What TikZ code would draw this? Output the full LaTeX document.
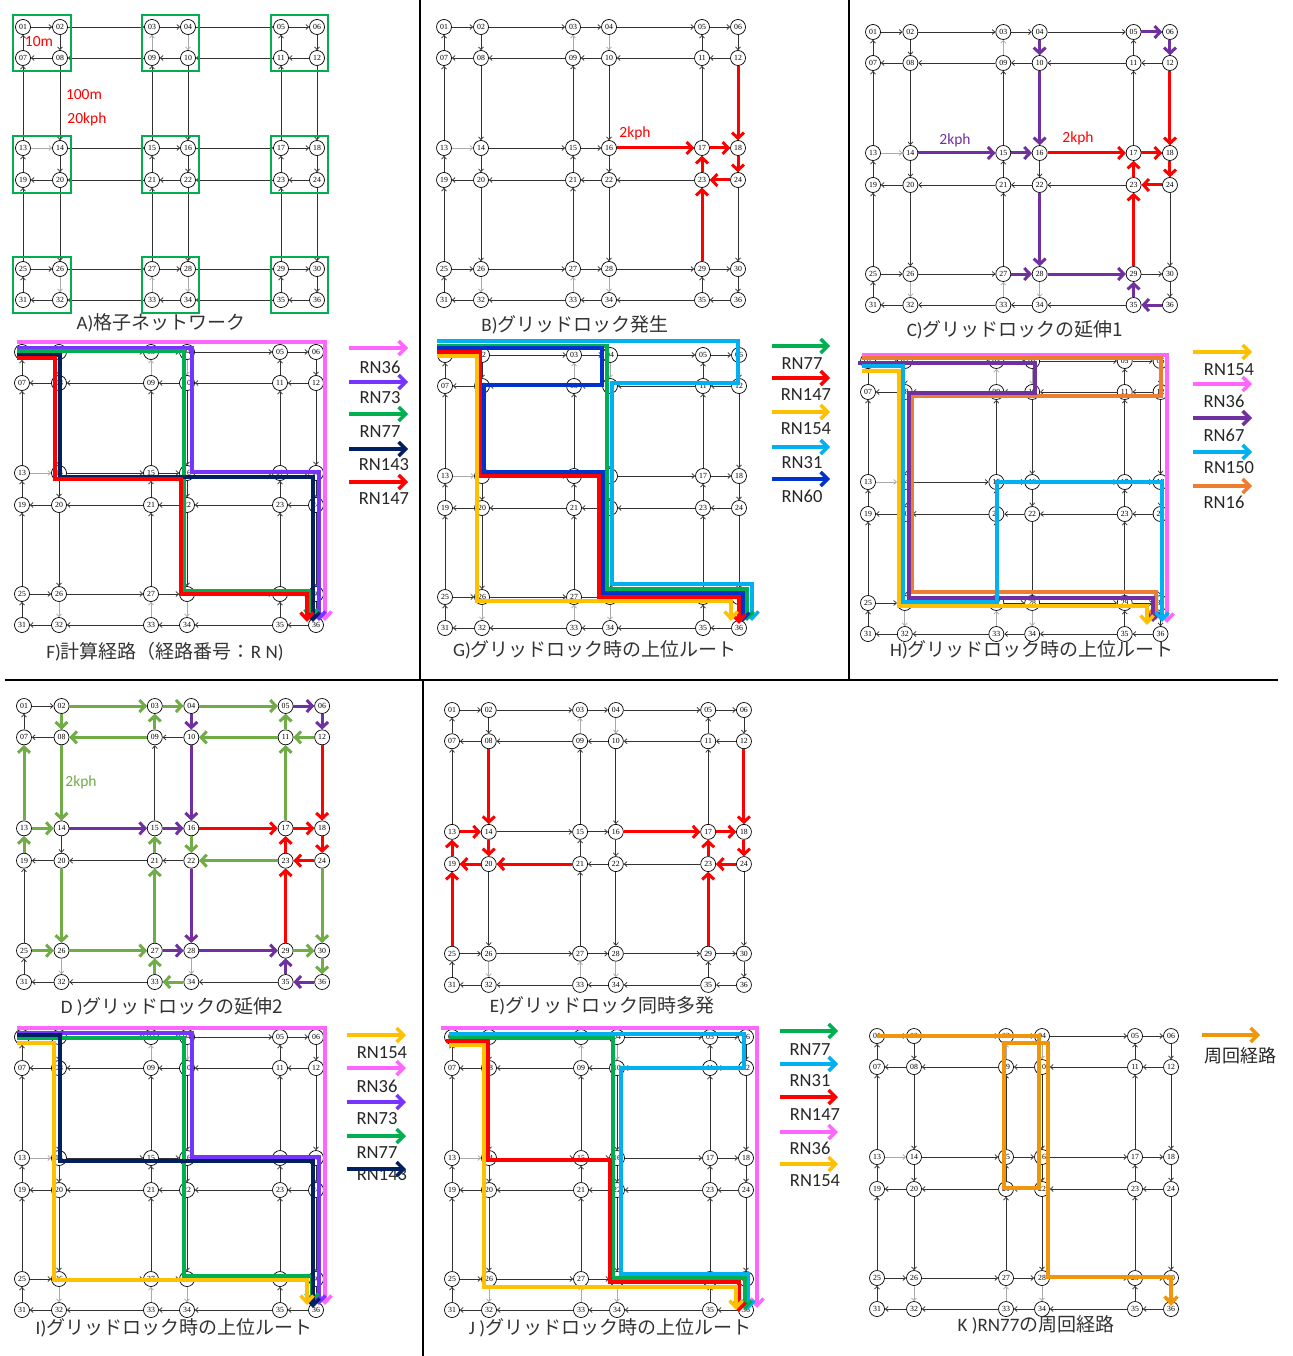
\documentclass[tikz,border=0pt]{standalone}
\usepackage{fontspec}
\setmainfont{Liberation Serif}
\newfontfamily\jpfont{Noto Sans CJK JP}
\newfontfamily\calfont{Carlito}
\usetikzlibrary{arrows.meta,calc}
\definecolor{cpink}{RGB}{255,102,255}
\definecolor{cviolet}{RGB}{119,51,255}
\definecolor{cpurple}{RGB}{112,48,160}
\definecolor{cgreen}{RGB}{0,176,80}
\definecolor{cnavy}{RGB}{0,32,96}
\definecolor{cred}{RGB}{255,0,0}
\definecolor{cyellow}{RGB}{255,192,0}
\definecolor{clblue}{RGB}{0,176,240}
\definecolor{cblue}{RGB}{0,51,204}
\definecolor{corange}{RGB}{237,125,49}
\definecolor{colive}{RGB}{112,173,71}
\definecolor{cgold}{RGB}{240,150,10}
\definecolor{edgedark}{RGB}{50,50,50}
\definecolor{edgelight}{RGB}{170,170,170}

\newcommand{\gridedge}[3]{%
  \pgfmathtruncatemacro\edgekey{#2*100+#3}%
  \def\edgecol{edgedark}%
  \ifnum\edgekey=1314 \def\edgecol{edgelight}\fi
  \ifnum\edgekey=903 \def\edgecol{edgelight}\fi
  \ifnum\edgekey=410 \def\edgecol{edgelight}\fi
  \ifnum\edgekey=2632 \def\edgecol{edgelight}\fi
  \ifnum\edgekey=3327 \def\edgecol{edgelight}\fi
  \ifnum\edgekey=2834 \def\edgecol{edgelight}\fi
  \draw[edge,draw=\edgecol] (#1-#2) -- (#1-#3);%
}
\newcommand{\gridnet}[4]{%
  \begin{scope}[shift={(#2,#3)},#4]
    \foreach \rr/\ry in {0/0,1/31,2/121,3/153,4/242,5/273}{
      \foreach \cc/\cx in {0/0,1/37,2/129,3/165,4/258,5/294}{
        \pgfmathtruncatemacro\nodenum{6*\rr+\cc+1}
        \node[gn] (#1-\nodenum) at (\cx,\ry) {\ifnum\nodenum<10 0\fi\nodenum};
      }
    }
  \end{scope}
  \foreach \rr in {0,...,5}{
    \foreach \cc in {0,...,4}{
      \pgfmathtruncatemacro\ena{6*\rr+\cc+1}
      \pgfmathtruncatemacro\enb{\ena+1}
      \ifodd\rr \gridedge{#1}{\enb}{\ena}\else \gridedge{#1}{\ena}{\enb}\fi
    }
  }
  \foreach \cc in {0,...,5}{
    \foreach \rr in {0,...,4}{
      \pgfmathtruncatemacro\ena{6*\rr+\cc+1}
      \pgfmathtruncatemacro\enb{\ena+6}
      \ifodd\cc \gridedge{#1}{\ena}{\enb}\else \gridedge{#1}{\enb}{\ena}\fi
    }
  }
}
\newcommand{\hotset}[3]{\foreach \sa/\sb in {#3}{\draw[hot,draw=#2] (#1-\sa) -- (#1-\sb);}}
\newcommand{\mycap}[2]{{\calfont #1}{\jpfont #2}}

\begin{document}
\begin{tikzpicture}[x=1pt,y=-1pt,
  gn/.style={circle,draw=black,line width=0.7pt,fill=white,inner sep=0pt,minimum size=15pt,font=\fontsize{7.8}{8}\selectfont},
  edge/.style={line width=0.75pt,-{Straight Barb[length=2.8pt,width=5pt]}},
  hot/.style={line width=3pt,-{Straight Barb[length=5.5pt,width=12pt]}},
  route/.style={line width=3.4pt,line join=miter,-{Straight Barb[length=7pt,width=13pt]}},
  leg/.style={line width=3.4pt,-{Straight Barb[length=7pt,width=14pt]}},
  legtxt/.style={font=\calfont\fontsize{18.5}{18.5}\selectfont,text=black!85,inner sep=0pt},
  captxt/.style={font=\fontsize{19}{19}\selectfont,text=black!80,inner sep=0pt},
  note/.style={font=\calfont\fontsize{15.5}{15.5}\selectfont,inner sep=0pt},
  gbox/.style={draw=cgreen,line width=2pt},
  sep/.style={line width=2.4pt,black}
]
\fill[white] (0,0) rectangle (1292,1356);
\useasboundingbox (0,0) rectangle (1292,1356);

% separators
\draw[sep] (420,0) -- (420,680);
\draw[sep] (423,680) -- (423,1356);
\draw[sep] (849,0) -- (849,680);
\draw[sep] (5,680) -- (1278,680);

% ---------- A
\gridnet{A}{23}{27}{}
\foreach \p/\q in {1/8,3/10,5/12,13/20,15/22,17/24,25/32,27/34,29/36}
  \draw[gbox] ($(A-\p)+(-10,-12)$) rectangle ($(A-\q)+(11,13)$);
\node[note,text=cred] (a10m) at (39,42) {10m};
\node[note,text=cred] (a100m) at (84,95) {100m};
\node[note,text=cred] (a20kph) at (87,119) {20kph};
\node[captxt] (capA) at (161,323) {\mycap{A)}{格子ネットワーク}};

% ---------- B
\gridnet{B}{444}{27}{}
\hotset{B}{cred}{12/18,16/17,17/18,18/24,24/23,23/17,29/23}
\node[note,text=cred] (b2kph) at (635,133) {2kph};
\node[captxt] (capB) at (575,325) {\mycap{B)}{グリッドロック発生}};

% ---------- C
\gridnet{C}{873}{32}{xscale=1.01}
\hotset{C}{cred}{12/18,16/17,17/18,18/24,24/23,23/17,29/23}
\hotset{C}{cpurple}{5/6,6/12,4/10,10/16,14/15,15/16,22/28,27/28,28/29,36/35,35/29}
\node[note,text=cpurple] (c2kphA) at (955,140) {2kph};
\node[note,text=cred] (c2kphB) at (1078,138) {2kph};
\node[captxt] (capC) at (1015,330) {\mycap{C)}{グリッドロックの延伸1}};

% ---------- F
\gridnet{F}{22}{352}{}
\draw[route,cpink] (17,342) -- (325,342) -- (325,621);
\draw[route,cviolet] (17,348) -- (192,348) -- (192,472) -- (319,472) -- (319,621);
\draw[route,cgreen] (17,351) -- (184,351) -- (184,591) -- (311,591) -- (311,619);
\draw[route,cnavy] (17,355) -- (60,355) -- (60,477) -- (313,477) -- (313,622);
\draw[route,cred] (17,358) -- (55,358) -- (55,479) -- (181,479) -- (181,594) -- (307,594) -- (307,622);
\draw[leg,cpink] (349,348) -- (408,348);
\node[legtxt] (lF1) at (380,367) {RN36};
\draw[leg,cviolet] (349,382) -- (408,382);
\node[legtxt] (lF2) at (380,398) {RN73};
\draw[leg,cgreen] (349,414) -- (408,414);
\node[legtxt] (lF3) at (380,432) {RN77};
\draw[leg,cnavy] (349,449) -- (408,449);
\node[legtxt] (lF4) at (384,465) {RN143};
\draw[leg,cred] (349,482) -- (408,482);
\node[legtxt] (lF5) at (384,499) {RN147};
\node[captxt] (capF) at (165,652) {\mycap{F)}{計算経路（経路番号：}{\calfont R N)}};

% ---------- G
\gridnet{G}{445}{355}{}
\draw[route,clblue] (437,341) -- (738,341) -- (738,383) -- (612,383) -- (612,584) -- (752,584) -- (752,621);
\draw[route,cgreen] (437,346) -- (607,346) -- (607,589) -- (747,589) -- (747,621);
\draw[route,cblue] (437,348) -- (602,348) -- (602,385) -- (484,385) -- (484,472) -- (603,472) -- (603,593) -- (743,593) -- (743,622);
\draw[route,cred] (437,352) -- (480,352) -- (480,476) -- (599,476) -- (599,597) -- (739,597) -- (739,624);
\draw[route,cyellow] (437,356) -- (477,356) -- (477,601) -- (731,601) -- (731,621);
\draw[leg,cgreen] (772,346) -- (830,346);
\node[legtxt] (lG1) at (802,364) {RN77};
\draw[leg,cred] (772,378) -- (830,378);
\node[legtxt] (lG2) at (806,395) {RN147};
\draw[leg,cyellow] (772,412) -- (830,412);
\node[legtxt] (lG3) at (806,429) {RN154};
\draw[leg,clblue] (772,447) -- (830,447);
\node[legtxt] (lG4) at (802,463) {RN31};
\draw[leg,cblue] (772,479) -- (830,479);
\node[legtxt] (lG5) at (802,496) {RN60};
\node[captxt] (capG) at (595,650) {\mycap{G)}{グリッドロック時の上位ルート}};

% ---------- H
\gridnet{H}{868}{361}{xscale=0.995}
\draw[route,cpink] (862,355) -- (1167,355) -- (1167,623);
\draw[route,corange] (862,358) -- (1161,358) -- (1161,396) -- (912,396) -- (912,592) -- (1156,592) -- (1156,620);
\draw[route,cpurple] (858,363) -- (1035,363) -- (1035,393) -- (909,393) -- (909,598) -- (1153,598) -- (1153,622);
\draw[route,clblue] (862,366) -- (903,366) -- (903,602) -- (997,602) -- (997,482) -- (1162,482) -- (1162,622);
\draw[route,cyellow] (862,371) -- (899,371) -- (899,606) -- (1147,606) -- (1147,625);
\draw[leg,cyellow] (1193,352) -- (1252,352);
\node[legtxt] (lH1) at (1229,370) {RN154};
\draw[leg,cpink] (1193,384) -- (1252,384);
\node[legtxt] (lH2) at (1224,401) {RN36};
\draw[leg,cpurple] (1193,418) -- (1252,418);
\node[legtxt] (lH3) at (1224,435) {RN67};
\draw[leg,clblue] (1193,452) -- (1252,452);
\node[legtxt] (lH4) at (1229,468) {RN150};
\draw[leg,corange] (1193,486) -- (1252,486);
\node[legtxt] (lH5) at (1224,502) {RN16};
\node[captxt] (capH) at (1032,650) {\mycap{H)}{グリッドロック時の上位ルート}};

% ---------- D
\gridnet{D}{24}{706}{xscale=1.014,yscale=1.011}
\hotset{D}{colive}{2/3,3/4,4/5,2/8,9/3,9/8,11/10,12/11,11/5,17/11,13/7,19/13,13/14,8/14,16/22,23/22,21/15,27/21,33/27,34/33,20/26,25/26,26/27,24/30,29/30,30/36}
\hotset{D}{cpurple}{5/6,6/12,4/10,10/16,14/15,15/16,22/28,27/28,28/29,36/35,35/29}
\hotset{D}{cred}{12/18,16/17,17/18,18/24,24/23,23/17,29/23}
\node[note,text=colive] (d2kph) at (81,782) {2kph};
\node[captxt] (capD) at (172,1007) {\mycap{D )}{グリッドロックの延伸2}};

% ---------- E
\gridnet{E}{452}{710}{xscale=0.993,yscale=1.007}
\hotset{E}{cred}{8/14,12/18,13/14,14/20,16/17,17/18,18/24,24/23,23/17,29/23,19/13,20/19,21/20,25/19}
\node[captxt] (capE) at (602,1006) {\mycap{E)}{グリッドロック同時多発}};

% ---------- I
\gridnet{I}{22}{1037}{}
\draw[route,cpink] (17,1028) -- (325,1028) -- (325,1305);
\draw[route,cviolet] (17,1033) -- (192,1033) -- (192,1157) -- (319,1157) -- (319,1305);
\draw[route,cgreen] (17,1038) -- (184,1038) -- (184,1276) -- (312,1276) -- (312,1303);
\draw[route,cnavy] (17,1035) -- (60,1035) -- (60,1161) -- (313,1161) -- (313,1308);
\draw[route,cyellow] (17,1043) -- (54,1043) -- (54,1280) -- (307,1280) -- (307,1305);
\draw[leg,cyellow] (347,1035) -- (406,1035);
\node[legtxt] (lI1) at (382,1053) {RN154};
\draw[leg,cpink] (347,1068) -- (406,1068);
\node[legtxt] (lI2) at (377,1086) {RN36};
\draw[leg,cviolet] (347,1102) -- (406,1102);
\node[legtxt] (lI3) at (377,1119) {RN73};
\draw[leg,cgreen] (347,1136) -- (406,1136);
\node[legtxt] (lI4) at (377,1153) {RN77};
\node[legtxt] (lI5) at (382,1175) {RN143};
\draw[leg,cnavy] (347,1169) -- (406,1169);
\node[captxt] (capI) at (174,1328) {\mycap{I)}{グリッドロック時の上位ルート}};

% ---------- J
\gridnet{J}{452}{1037}{}
\draw[route,cpink] (441,1028) -- (757,1028) -- (757,1308);
\draw[route,clblue] (449,1034) -- (744,1034) -- (744,1068) -- (621,1068) -- (621,1274) -- (748,1274) -- (748,1310);
\draw[route,cgreen] (449,1038) -- (613,1038) -- (613,1278) -- (745,1278) -- (745,1310);
\draw[route,cred] (446,1041) -- (488,1041) -- (488,1160) -- (610,1160) -- (610,1282) -- (739,1282) -- (739,1312);
\draw[route,cyellow] (449,1045) -- (484,1045) -- (484,1287) -- (736,1287) -- (736,1310);
\draw[leg,cgreen] (780,1031) -- (838,1031);
\node[legtxt] (lJ1) at (810,1050) {RN77};
\draw[leg,clblue] (780,1064) -- (838,1064);
\node[legtxt] (lJ2) at (810,1081) {RN31};
\draw[leg,cred] (780,1097) -- (838,1097);
\node[legtxt] (lJ3) at (815,1115) {RN147};
\draw[leg,cpink] (780,1132) -- (838,1132);
\node[legtxt] (lJ4) at (810,1148) {RN36};
\draw[leg,cyellow] (780,1164) -- (838,1164);
\node[legtxt] (lJ5) at (815,1181) {RN154};
\node[captxt] (capJ) at (610,1328) {\mycap{J )}{グリッドロック時の上位ルート}};

% ---------- K
\gridnet{K}{877}{1036}{}
\draw[route,cgold] (877,1036) -- (1039,1036) -- (1039,1188) -- (1004,1188) -- (1004,1043) -- (1048,1043) -- (1048,1277) -- (1171,1277) -- (1171,1306);
\draw[leg,cgold] (1202,1035) -- (1260,1035);
\node[legtxt,font=\jpfont\fontsize{18}{18}\selectfont] (lK1) at (1240,1056) {周回経路};
\node[captxt] (capK) at (1036,1325) {\mycap{K )RN77}{の周回経路}};
\end{tikzpicture}
\end{document}
